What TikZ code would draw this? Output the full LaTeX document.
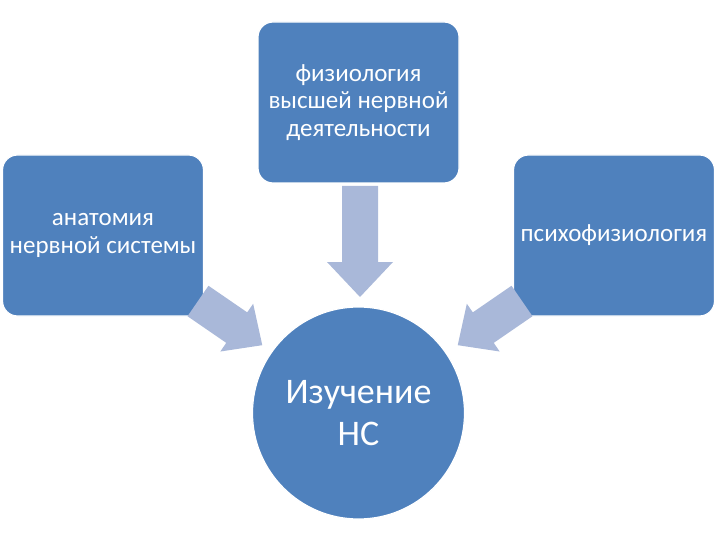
\documentclass[tikz,border=0pt]{standalone}
\usepackage{fontspec}
\setmainfont{Carlito}
\definecolor{boxblue}{HTML}{4F81BD}
\definecolor{arrowblue}{HTML}{A9B8D9}
\begin{document}
\begin{tikzpicture}[x=1pt,y=-1pt,
  box/.style={draw=white,line width=1.2pt,fill=boxblue,rounded corners=15pt,
    minimum width=201pt,minimum height=161pt,text=white,align=center,
    font=\fontsize{25}{27.5}\selectfont,inner sep=0pt},
  hub/.style={circle,draw=white,line width=1.2pt,fill=boxblue,minimum size=212pt,
    text=white,align=center,font=\fontsize{36}{42}\selectfont,inner sep=0pt},
  blockarrow/.style={fill=arrowblue,draw=none}]
\useasboundingbox (0,0) rectangle (720,540);
\node[box] (top) at (358.5,102.5) {физиология\\высшей нервной\\деятельности};
\node[box] (left) at (103,235.5) {анатомия\\нервной системы};
\node[box] (right) at (614,235.5) {психофизиология};
\node[hub] (hub) at (358.5,413) {Изучение\\НС};
% down arrow
\fill[blockarrow] (342,186) -- (378,186) -- (378,262) -- (393,262) -- (360,297) -- (327,262) -- (342,262) -- cycle;
% left arrow
\begin{scope}[shift={(198,301)},rotate=-34.5]
\fill[blockarrow] (0,-18.5) -- (47,-18.5) -- (47,-29) -- (78,0) -- (47,29) -- (47,18.5) -- (0,18.5) -- cycle;
\end{scope}
% right arrow
\begin{scope}[shift={(522,301)},rotate=34.5,xscale=-1]
\fill[blockarrow] (0,-18.5) -- (47,-18.5) -- (47,-29) -- (78,0) -- (47,29) -- (47,18.5) -- (0,18.5) -- cycle;
\end{scope}
\end{tikzpicture}
\end{document}
